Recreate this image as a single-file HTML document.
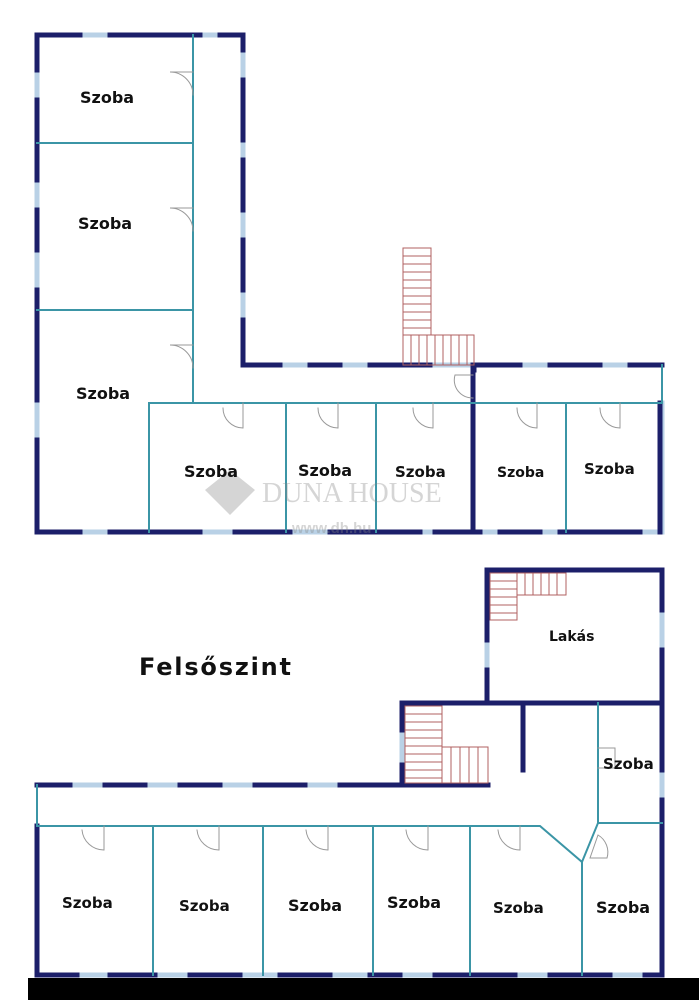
<!DOCTYPE html>
<html><head><meta charset="utf-8"><style>
html,body{margin:0;padding:0;background:#fff;width:699px;height:1000px;overflow:hidden}
text{font-family:"DejaVu Sans",sans-serif;font-weight:bold;fill:#111}
</style></head><body>
<svg width="699" height="1000" viewBox="0 0 699 1000" xmlns="http://www.w3.org/2000/svg">
<g fill="none" stroke-linecap="square">
<g stroke="#b9d1e6" stroke-width="5">
<path d="M37 35H243V365H662M37 35V532H662V403"/>
<path d="M37 785H488M662 570V975M37 826V975H662M487 570H662M402 703V785M487 570V703"/>
</g>
<g stroke="#1c1f6a" stroke-width="5">
<path d="M37 35V70M37 100V180M37 210V250M37 290V400M37 440V532" />
<path d="M37 35H80M110 35H200M220 35H243V50M243 80V140M243 160V210M243 240V290M243 320V365H280M310 365H340M370 365H430M474 365H520M550 365H600M630 365H662" />
<path d="M37 532H80M110 532H200M235 532H290M330 532H420M435 532H480M500 532H540M560 532H640M660 532V403M473 365V532M474 365V370" />
<path d="M37 785H70M105 785H145M180 785H220M255 785H305M340 785H488M402 785V765M402 730V703H662M523 703V770" />
<path d="M487 570H662V610M662 650V770M662 800V975M487 570V640M487 670V703" />
<path d="M37 826V975H77M110 975H155M190 975H240M280 975H330M370 975H400M435 975H515M550 975H610M645 975H662" />
</g>
<g stroke="#3b95a6" stroke-width="2">
<path d="M193 35V403M37 143H193M37 310H193M149 403H662M149 403V532M286 403V532M376 403V532M566 403V532M662 365V403"/>
<path d="M37 785V826M37 826H540L582 862V975M153 826V975M263 826V975M373 826V975M470 826V975M598 703V823H662M598 823L582 862"/>
</g>
<g stroke="#b06060" stroke-width="1">
<rect x="403" y="248" width="28" height="87"/><rect x="403" y="335" width="71" height="30"/>
<path d="M403 256H431M403 264H431M403 272H431M403 280H431M403 288H431M403 296H431M403 304H431M403 312H431M403 320H431M403 328H431M411 335V365M419 335V365M427 335V365M435 335V365M443 335V365M451 335V365M459 335V365M467 335V365"/>
<rect x="405" y="706" width="37" height="77"/><rect x="442" y="747" width="46" height="36"/>
<path d="M405 714H442M405 722H442M405 730H442M405 738H442M405 746H442M405 754H442M405 762H442M405 770H442M405 778H442M451 747V783M460 747V783M469 747V783M478 747V783"/>
<rect x="490" y="573" width="27" height="47"/><rect x="517" y="573" width="49" height="22"/>
<path d="M490 581H517M490 589H517M490 597H517M490 605H517M490 613H517M525 573V595M533 573V595M541 573V595M549 573V595M557 573V595"/>
</g>
<g stroke="#999" stroke-width="1">
<path d="M193 72H170A23 23 0 0 1 193 95"/><path d="M193 208H170A23 23 0 0 1 193 231"/><path d="M193 345H170A23 23 0 0 1 193 368"/>
<path d="M243 403V428A20 20 0 0 1 223 408"/><path d="M338 403V428A20 20 0 0 1 318 408"/><path d="M433 403V428A20 20 0 0 1 413 408"/><path d="M537 403V428A20 20 0 0 1 517 408"/><path d="M620 403V428A20 20 0 0 1 600 408"/>
<path d="M473 375H455A18 18 0 0 0 473 398"/>
<path d="M104 826V850A22 22 0 0 1 82 830"/><path d="M219 826V850A22 22 0 0 1 197 830"/><path d="M328 826V850A22 22 0 0 1 306 830"/><path d="M428 826V850A22 22 0 0 1 406 830"/><path d="M520 826V850A22 22 0 0 1 498 830"/>
<path d="M598 835L590 858H607A20 20 0 0 0 598 835"/><path d="M598 748H615V768H598"/>
</g>
</g>
<g opacity="0.35">
<path d="M230 470L255 490L230 515L205 490Z" fill="#888"/>
<text x="262" y="502" style="font-family:'Liberation Serif',serif;font-weight:normal;fill:#888;font-size:28px">DUNA HOUSE</text>
<text x="292" y="533" style="font-family:'Liberation Sans',sans-serif;fill:#888;font-size:15px">www.dh.hu</text>
</g>
<g font-size="16">
<text x="80" y="103">Szoba</text><text x="78" y="229">Szoba</text><text x="76" y="399">Szoba</text>
<text x="184" y="477">Szoba</text><text x="298" y="476">Szoba</text><text x="395" y="477" font-size="15">Szoba</text>
<text x="497" y="477" font-size="14">Szoba</text><text x="584" y="474" font-size="15">Szoba</text>
<text x="549" y="641" font-size="14">Lakás</text><text x="603" y="769" font-size="15">Szoba</text>
<text x="62" y="908" font-size="15">Szoba</text><text x="179" y="911" font-size="15">Szoba</text><text x="288" y="911">Szoba</text><text x="387" y="908">Szoba</text><text x="493" y="913" font-size="15">Szoba</text><text x="596" y="913">Szoba</text>
<text x="139" y="675" font-size="24" textLength="152">Felsőszint</text>
</g>
<rect x="28" y="978" width="671" height="22" fill="#000"/>
</svg>
</body></html>
